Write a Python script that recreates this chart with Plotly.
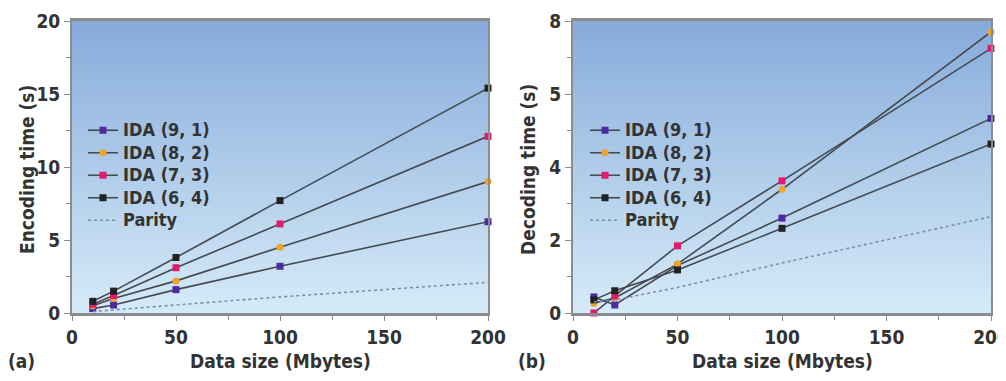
import plotly.graph_objects as go

# ---------------- data ----------------
sizes = [10, 20, 50, 100, 200]

enc_91 = [0.3, 0.55, 1.6, 3.2, 6.25]
enc_82 = [0.5, 1.0, 2.2, 4.5, 9.0]
enc_73 = [0.6, 1.2, 3.1, 6.1, 12.1]
enc_64 = [0.8, 1.5, 3.8, 7.7, 15.4]
enc_par = [0.1, 0.2, 0.55, 1.1, 2.1]

dec_91 = [0.44, 0.22, 1.3, 2.6, 5.33]
dec_82 = [0.27, 0.41, 1.34, 3.39, 7.7]
dec_73 = [0.0, 0.47, 1.84, 3.62, 7.25]
dec_64 = [0.36, 0.61, 1.18, 2.32, 4.63]
dec_par = [0.3, 0.36, 0.7, 1.37, 2.64]

series_names = ["IDA (9, 1)", "IDA (8, 2)", "IDA (7, 3)", "IDA (6, 4)", "Parity"]
marker_colors = ["#4b2aa0", "#f0a428", "#e21a6e", "#222222", None]
marker_symbols = ["square", "circle", "square", "square", None]

x_ticks = [0, 50, 100, 150, 200]
enc_ticks = [0, 5, 10, 15, 20]
enc_ticktext = ["0", "5", "10", "15", "20"]
dec_ticks = [0, 2, 4, 6, 8]
dec_ticktext = ["0", "2", "4", "5", "8"]

# page is 1006x381; the html body adds an 8px margin
OFF = 8
W, H = 1006 - 2 * OFF, 381 - 2 * OFF
def PX(x):
    return (x - OFF) / W
def PY(y):
    return 1 - (y - OFF) / H

FONT = "Liberation Sans Narrow, DejaVu Sans Condensed, Roboto Condensed, Liberation Sans, Arial, sans-serif"
TXT = "#333333"
AXC = "#8c8c8c"

fig = go.Figure()

def bg(xa, ya, ymax):
    fig.add_trace(go.Scatter(
        x=[0, 200, 200, 0, 0], y=[0, 0, ymax, ymax, 0],
        xaxis=xa, yaxis=ya, mode="none", fill="toself",
        fillgradient=dict(type="vertical", start=0, stop=ymax,
                          colorscale=[[0, "#d6ebf9"], [0.5, "#aecbe9"], [1, "#86aadb"]]),
        hoverinfo="skip", showlegend=False))

bg("x", "y", 20)
bg("x2", "y2", 8)

def legend_label(name):
    return '<span style="font-size:18px">' + name + "</span>"

def add_series(data, xa, ya, legend):
    for i, (name, vals) in enumerate(zip(series_names, data)):
        if marker_colors[i] is None:
            fig.add_trace(go.Scatter(
                x=sizes, y=vals, xaxis=xa, yaxis=ya, name=legend_label(name), mode="lines",
                line=dict(color="#7d8fa6", width=1.6, dash="dot"),
                legend=legend, cliponaxis=False))
        else:
            fig.add_trace(go.Scatter(
                x=sizes, y=vals, xaxis=xa, yaxis=ya, name=legend_label(name),
                mode="lines+markers",
                line=dict(color="#454a50", width=1.6),
                marker=dict(color=marker_colors[i], symbol=marker_symbols[i], size=7,
                            line=dict(width=0)),
                legend=legend, cliponaxis=False))

add_series([enc_91, enc_82, enc_73, enc_64, enc_par], "x", "y", "legend")
add_series([dec_91, dec_82, dec_73, dec_64, dec_par], "x2", "y2", "legend2")

xd1 = [PX(72), PX(488)]
xd2 = [PX(573), PX(991)]
yd = [PY(313), PY(21)]

tickfont = dict(family=FONT, size=19, color=TXT, weight="bold")

def xaxis_cfg(dom, anchor):
    return dict(domain=dom, anchor=anchor, range=[0, 200], tickvals=x_ticks,
                ticks="outside", ticklen=5, tickwidth=1, tickcolor=AXC,
                minor=dict(dtick=25, ticks="outside", ticklen=4, tickcolor=AXC, showgrid=False),
                showgrid=False, zeroline=False, showline=True, linecolor=AXC,
                linewidth=3, mirror=True, tickfont=tickfont, fixedrange=True,
                automargin=False, ticklabeloverflow="allow")

def yaxis_cfg(dom, anchor, rng, tv, tt, mdt):
    return dict(domain=dom, anchor=anchor, range=rng, tickvals=tv, ticktext=tt,
                ticks="outside", ticklen=6, tickwidth=1, tickcolor=AXC,
                minor=dict(dtick=mdt, ticks="outside", ticklen=4, tickcolor=AXC, showgrid=False),
                showgrid=False, zeroline=False, showline=True, linecolor=AXC,
                linewidth=2, mirror=True, tickfont=tickfont, fixedrange=True,
                automargin=False, ticklabeloverflow="allow")

legend_common = dict(font=dict(family=FONT, size=15, color=TXT, weight="bold"),
                     bgcolor="rgba(0,0,0,0)",
                     borderwidth=0, tracegroupgap=0, xanchor="left", yanchor="top",
                     itemwidth=30)

afont = dict(family=FONT, size=19, color=TXT, weight="bold")
def ann(text, x, y, angle=0):
    return dict(text=text, x=PX(x), y=PY(y), xref="paper", yref="paper",
                xanchor="center", yanchor="middle", showarrow=False,
                textangle=angle, font=afont)

annotations = [
    ann("Data size (Mbytes)", 280, 361),
    ann("Data size (Mbytes)", 782, 361),
    ann("(a)", 21, 361),
    ann("(b)", 532, 361),
    ann("Encoding time (s)", 27, 170, -90),
    ann("Decoding time (s)", 528, 170, -90),
]

fig.update_layout(
    width=W, height=H, margin=dict(l=0, r=0, t=0, b=0, autoexpand=False),
    paper_bgcolor="white", plot_bgcolor="rgba(0,0,0,0)",
    font=dict(family=FONT, size=18, color=TXT),
    xaxis=xaxis_cfg(xd1, "y"),
    yaxis=yaxis_cfg(yd, "x", [0, 20], enc_ticks, enc_ticktext, 2.5),
    xaxis2=xaxis_cfg(xd2, "y2"),
    yaxis2=yaxis_cfg(yd, "x2", [0, 8], dec_ticks, dec_ticktext, 1),
    legend=dict(x=PX(83), y=PY(114), **legend_common),
    legend2=dict(x=PX(585), y=PY(114), **legend_common),
    annotations=annotations,
    showlegend=True,
)

fig.write_html("out.html")
